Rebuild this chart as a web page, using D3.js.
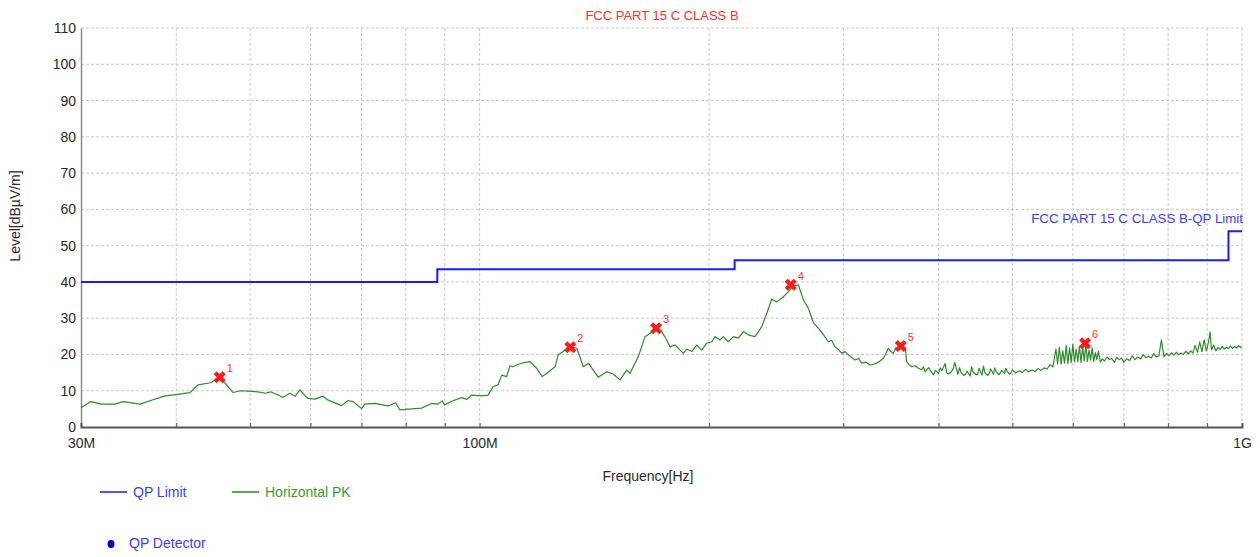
<!DOCTYPE html>
<html><head><meta charset="utf-8">
<script src="https://cdn.jsdelivr.net/npm/d3@7"></script>
<style>
body{margin:0;background:#fff;}
svg{display:block;font-family:"Liberation Sans",Arial,sans-serif;}
</style>
</head><body>
<svg id="c" width="1260" height="557"></svg>
<script>
// ---------- data ----------
const chartTitle = "FCC PART 15 C CLASS B";
const limitName = "FCC PART 15 C CLASS B-QP Limit";
const freqGrid = [30,40,50,60,70,80,90,100,200,300,400,500,600,700,800,900,1000];
const freqLabelValues = [30,100,1000];
const freqLabelTexts = ["30M","100M","1G"];
const levelTicks = [0,10,20,30,40,50,60,70,80,90,100,110];

// QP limit steps (MHz, dBµV/m)
const limitFreq = [30, 88, 216, 960, 1000];
const limitLevel = [40, 43.5, 46, 54, 54];

// Horizontal PK trace [MHz, dBµV/m]
const hpkTrace = [
[30.0,5.3],[30.9,7.0],[31.9,6.3],[33.2,6.3],[34.1,7.0],[35.9,6.3],[37.0,7.3],[38.7,8.6],[40.2,9.0],[41.7,9.5],
[42.7,11.6],[44.4,12.2],[45.4,13.6],[46.3,12.2],[47.5,9.5],[48.6,10.0],[51.2,9.7],[52.4,9.3],[53.2,9.7],[55.2,8.2],
[56.4,9.3],[57.3,8.5],[58.1,10.2],[59.5,7.9],[60.8,7.7],[62.3,8.5],[63.3,7.4],[65.9,5.9],[67.2,7.3],[68.2,7.0],
[70.0,5.1],[70.7,6.3],[72.9,6.5],[75.8,5.8],[77.6,6.7],[78.6,4.7],[81.4,5.0],[83.9,5.2],[86.5,6.5],[88.2,6.3],
[89.3,7.2],[90.0,6.1],[91.9,7.1],[94.7,8.1],[96.2,7.6],[97.6,8.8],[100.6,8.6],[102.6,8.8],[104.1,11.1],[105.7,11.6],
[106.9,14.3],[108.5,13.9],[109.6,16.9],[110.6,16.6],[111.8,17.1],[114.0,17.7],[116.4,18.0],[118.8,16.2],[120.8,13.9],[122.5,14.8],
[125.6,16.6],[126.8,19.9],[128.7,20.8],[130.6,22.1],[132.1,22.0],[134.1,21.7],[136.8,16.6],[138.9,17.6],[143.1,13.7],[146.8,15.2],
[149.7,14.6],[152.8,13.0],[155.9,15.7],[157.5,14.8],[161.5,19.4],[164.8,24.9],[167.3,25.8],[170.4,27.2],[173.3,26.3],[176.0,24.0],
[177.7,22.1],[180.5,22.6],[185.0,20.3],[186.9,21.5],[189.8,20.8],[192.6,22.6],[195.6,21.2],[198.5,23.1],[201.6,23.5],[203.6,24.9],
[206.7,24.0],[208.7,24.9],[211.9,23.5],[215.2,24.9],[218.4,24.5],[221.8,26.3],[225.1,25.4],[229.7,24.9],[234.4,27.6],[238.0,31.3],
[241.6,35.2],[245.3,34.5],[250.3,35.9],[254.1,37.3],[257.9,38.9],[261.9,39.2],[265.9,35.0],[269.9,32.7],[274.0,28.8],[279.6,26.7],
[283.0,25.2],[286.7,23.5],[289.5,23.9],[292.5,22.1],[295.5,21.4],[298.5,20.3],[301.5,20.8],[304.5,19.9],[307.5,19.2],[310.8,18.5],
[314.0,18.9],[317.1,17.6],[321.0,17.9],[325.2,17.1],[328.5,17.3],[331.8,17.6],[335.0,18.2],[338.5,18.9],[341.0,20.2],[343.6,21.7],
[346.0,20.9],[348.9,20.3],[351.5,21.9],[354.1,21.7],[356.0,22.0],[359.5,21.2],[361.5,21.9],[363.2,18.0],[366.0,17.2],[368.8,16.6],
[372.5,16.9],[376.2,16.2],[380,15.8],[382,16.6],[384,15.2],[388,16.4],[392,15.0],[394,14.4],[396,15.6],[400,14.8],
[402,16.3],[404,15.5],[408,17.5],[410,14.9],[412,14.6],[416,15.3],[418,16.1],[420,17.8],[424,14.5],[426,16.4],
[428,15.0],[432,14.2],[434,14.6],[436,15.4],[440,14.0],[442,16.6],[444,15.1],[448,14.4],[450,14.5],[452,16.2],
[456,14.3],[458,16.8],[460,15.0],[464,14.2],[466,14.7],[468,16.0],[472,14.6],[474,16.3],[476,15.2],[480,14.4],
[482,15.0],[484,15.6],[488,14.8],[490,16.2],[492,15.3],[496,14.6],[498,15.0],[500,15.8],[505,14.9],[510,15.5],
[515,15.0],[520,15.9],[525,15.2],[530,15.7],[535,15.3],[540,16.1],[545,15.6],[550,16.3],[555,16.0],[560,17.2],
[565,16.6],[570,21.5],[573,17.4],[576,22.0],[579,17.3],[582,21.0],[585,17.6],[588,22.5],[591,17.5],[594,21.8],
[597,17.8],[600,22.8],[603,17.9],[606,21.5],[609,18.0],[612,22.3],[615,17.8],[618,22.0],[621,18.2],[624,22.6],
[627,18.1],[630,21.2],[633,18.4],[636,21.8],[639,18.0],[642,20.5],[645,18.6],[648,20.9],[652,17.9],[656,18.8],
[660,18.2],[665,19.3],[670,18.6],[675,18.9],[680,17.8],[685,19.2],[690,18.5],[695,19.0],[700,17.9],[706,18.8],
[712,18.3],[718,19.6],[724,18.6],[730,19.3],[736,18.8],[742,19.9],[748,19.1],[754,19.5],[760,19.0],[766,20.2],
[772,19.3],[778,19.6],[784,24.0],[790,19.4],[796,20.3],[802,19.6],[808,20.5],[814,19.8],[820,20.6],[826,19.9],
[832,20.4],[838,20.0],[844,20.9],[850,20.2],[856,21.0],[862,20.4],[868,22.5],[874,20.6],[880,23.5],[886,20.8],
[892,24.0],[898,21.0],[904,23.5],[908,26.2],[912,21.3],[918,22.6],[924,21.0],[930,22.0],[936,21.4],[942,22.2],
[948,21.5],[954,22.0],[960,21.6],[966,22.3],[972,21.7],[978,22.2],[984,21.8],[990,22.4],[996,21.9],[1000,22.1]
];

// Peak markers
const markerFreq = [45.6, 131.5, 170.4, 255.9, 356.8, 622.5];
const markerLevel = [13.7, 22.0, 27.2, 39.2, 22.3, 23.1];
const markerLabel = ["1","2","3","4","5","6"];

const legendRow1 = [{name:"QP Limit", color:"#1a1aff", text:"#3b3bff"},{name:"Horizontal PK", color:"#1f8a1f", text:"#3a9a3a"}];
const legendRow2 = [{name:"QP Detector", color:"#0000dd", text:"#3b3bff"}];

// ---------- drawing ----------
const svg = d3.select("#c");
const x = d3.scaleLog().domain([30,1000]).range([81,1242]);
const y = d3.scaleLinear().domain([0,110]).range([427,28]);

const grid = svg.append("g");
grid.selectAll("line.v").data(freqGrid.slice(1)).enter().append("line")
  .attr("x1",d=>x(d)).attr("x2",d=>x(d)).attr("y1",y(110)).attr("y2",y(0))
  .attr("stroke","#c8c8c8").attr("stroke-width",1).attr("stroke-dasharray","3,2");
grid.selectAll("line.h").data(levelTicks.slice(1)).enter().append("line")
  .attr("x1",x(30)).attr("x2",x(1000)).attr("y1",d=>y(d)).attr("y2",d=>y(d))
  .attr("stroke","#c8c8c8").attr("stroke-width",1).attr("stroke-dasharray","3,2");

// y axis
const yAxis = svg.append("g").attr("transform",`translate(${x(30)},0)`)
  .call(d3.axisLeft(y).tickValues(levelTicks).tickSize(0).tickPadding(5));
yAxis.select(".domain").attr("stroke","#8a8a8a").attr("stroke-width",1.5);
yAxis.selectAll("text").attr("font-size",14).attr("fill","#2a2a2a").attr("font-family","'Liberation Sans',Arial,sans-serif");

// x axis ticks
const xTicks = svg.append("g").attr("transform",`translate(0,${y(0)})`)
  .call(d3.axisBottom(x).tickValues(freqGrid).tickSize(-4).tickFormat(""));
xTicks.select(".domain").attr("stroke","#555").attr("stroke-width",2);
xTicks.selectAll(".tick line").attr("stroke","#555");
const xLabels = svg.append("g").attr("transform",`translate(0,${y(0)})`)
  .call(d3.axisBottom(x).tickValues(freqLabelValues).tickSize(0).tickPadding(11)
    .tickFormat((d,i)=>freqLabelTexts[i]));
xLabels.select(".domain").remove();
xLabels.selectAll("text").attr("font-size",14).attr("fill","#2a2a2a").attr("font-family","'Liberation Sans',Arial,sans-serif");

// axis titles
svg.append("text").attr("x",648).attr("y",481).attr("text-anchor","middle")
  .attr("font-size",14).attr("fill","#2a2a2a").text("Frequency[Hz]");
svg.append("text").attr("transform","translate(20,216) rotate(-90)").attr("text-anchor","middle")
  .attr("font-size",14).attr("fill","#2a2a2a").text("Level[dBµV/m]");

// title
svg.append("text").attr("x",662).attr("y",20).attr("text-anchor","middle")
  .attr("font-size",13).attr("fill","#ff3030").text(chartTitle);

// limit line
const limitData = limitFreq.map((f,i)=>[f,limitLevel[i]]);
svg.append("path").datum(limitData)
  .attr("d",d3.line().x(d=>x(d[0])).y(d=>y(d[1])).curve(d3.curveStepAfter))
  .attr("fill","none").attr("stroke","#1a1aff").attr("stroke-width",2);
svg.append("text").attr("x",1243).attr("y",223).attr("text-anchor","end")
  .attr("font-size",13.3).attr("fill","#3b3bff").text(limitName);

// trace
svg.append("path").datum(hpkTrace)
  .attr("d",d3.line().x(d=>x(d[0])).y(d=>y(d[1])))
  .attr("fill","none").attr("stroke","#2e8b2e").attr("stroke-width",1.2).attr("stroke-linejoin","round");

// markers
const mk = svg.append("g");
markerFreq.forEach((f,i)=>{
  mk.append("path").attr("d",d3.symbol(d3.symbolCross,90)())
    .attr("transform",`translate(${x(f)},${y(markerLevel[i])}) rotate(45)`)
    .attr("fill","#ff1a1a");
  mk.append("text").attr("x",x(f)+7).attr("y",y(markerLevel[i])-5)
    .attr("font-size",11).attr("fill","#ff3030").text(markerLabel[i]);
});

// legend
const lg = svg.append("g");
const row1x = [100, 232];
legendRow1.forEach((d,i)=>{
  lg.append("line").attr("x1",row1x[i]).attr("x2",row1x[i]+27).attr("y1",492).attr("y2",492)
    .attr("stroke",d.color).attr("stroke-width",1.5);
  lg.append("text").attr("x",row1x[i]+33).attr("y",497).attr("font-size",14).attr("fill",d.text).text(d.name);
});
legendRow2.forEach(d=>{
  lg.append("ellipse").attr("cx",111).attr("cy",544).attr("rx",3.5).attr("ry",4).attr("fill",d.color);
  lg.append("text").attr("x",129).attr("y",548).attr("font-size",14).attr("fill",d.text).text(d.name);
});
</script>
</body></html>
